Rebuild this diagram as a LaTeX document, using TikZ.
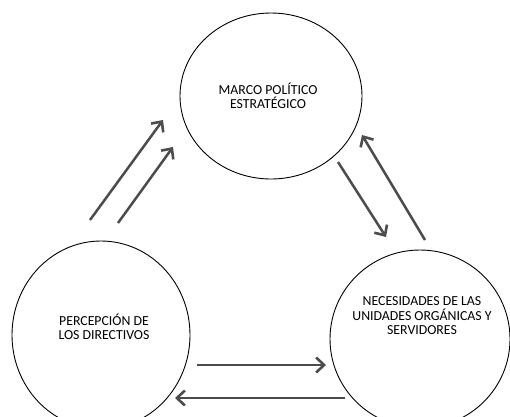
\documentclass[tikz,border=0pt]{standalone}
\usepackage{fontspec}
\setmainfont{Carlito}
\usetikzlibrary{arrows.meta,shapes.geometric}
\tikzset{
  bloque/.style={ellipse, draw, line width=0.9pt, inner sep=0pt},
  texto/.style={align=center, inner sep=0pt, font=\fontsize{13.8}{14.5}\selectfont},
  flecha/.style={line width=2.5pt, black!70, -{Straight Barb[length=8pt,width=15pt,line width=2.6pt]}},
}
\begin{document}
\begin{tikzpicture}[x=1pt, y=-1pt]
  \useasboundingbox (0,0) rectangle (510,416);

  % Los tres bloques
  \node[bloque, minimum width=182pt, minimum height=166pt] (marco) at (271,96) {};
  \node[bloque, minimum width=178pt, minimum height=188pt] (perc) at (101,335) {};
  \node[bloque, minimum width=180pt, minimum height=178pt] (nec) at (420,339) {};

  % Textos
  \node[texto] (tmarco) at (268,96) {MARCO POLÍTICO\\ESTRATÉGICO};
  \node[texto] (tperc) at (104,327) {PERCEPCIÓN DE\\LOS DIRECTIVOS};
  \node[texto] (tnec) at (422,316) {NECESIDADES DE LAS\\UNIDADES ORGÁNICAS Y\\SERVIDORES};

  % Extremos de las flechas
  \coordinate (p1a) at (90,220);   \coordinate (p1b) at (163,120);
  \coordinate (p2a) at (118,223);  \coordinate (p2b) at (173,147);
  \coordinate (m1a) at (338,162);  \coordinate (m1b) at (386,237);
  \coordinate (n1a) at (425,240);  \coordinate (n1b) at (362,135);
  \coordinate (d1a) at (197,365);  \coordinate (d1b) at (326,365);
  \coordinate (d2a) at (345,398);  \coordinate (d2b) at (175,398);

  % Percepcion -> Marco
  \draw[flecha] (p1a) -- (p1b);
  \draw[flecha] (p2a) -- (p2b);

  % Marco <-> Necesidades
  \draw[flecha] (m1a) -- (m1b);
  \draw[flecha] (n1a) -- (n1b);

  % Percepcion <-> Necesidades
  \draw[flecha] (d1a) -- (d1b);
  \draw[flecha] (d2a) -- (d2b);
\end{tikzpicture}
\end{document}
